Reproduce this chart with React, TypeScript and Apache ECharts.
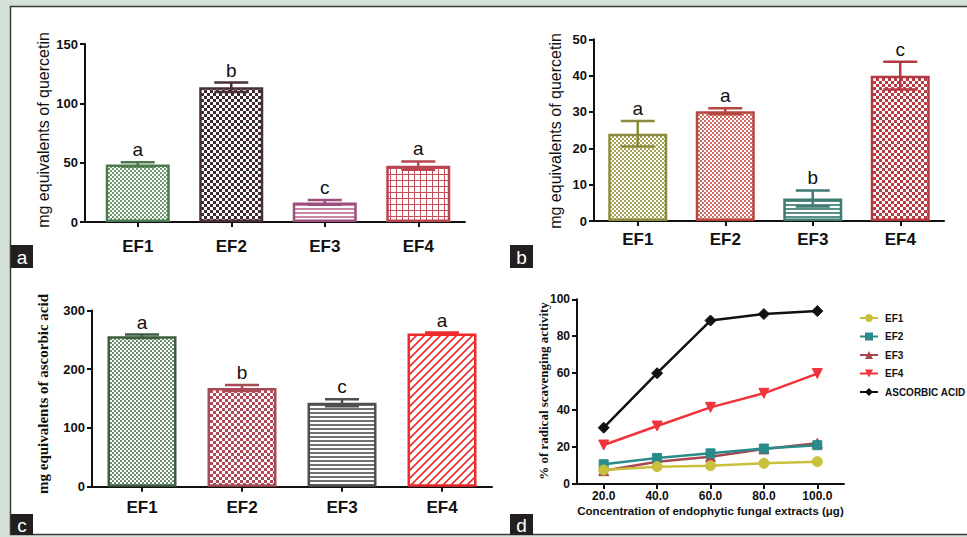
import React, { useEffect, useRef } from 'react';
import * as echarts from 'echarts';

// ---------- data ----------
const categories = ['EF1', 'EF2', 'EF3', 'EF4'];

const flavA = [48.5, 113.5, 16.5, 47.5];
const flavAErr = [1.8, 4, 2, 3.5];
const flavALetters = ['a', 'b', 'c', 'a'];

const flavB = [24, 30.2, 6.2, 40];
const flavBErr = [3.5, 0.8, 2.2, 3.8];
const flavBLetters = ['a', 'a', 'b', 'c'];

const ascC = [256, 168, 143, 261];
const ascCErr = [3, 5, 6, 1.5];
const ascCLetters = ['a', 'b', 'c', 'a'];

const concentrations = ['20.0', '40.0', '60.0', '80.0', '100.0'];
const dEF1 = [7.6, 9.4, 9.9, 11.2, 12.1];
const dEF2 = [10.7, 14.1, 16.6, 19.2, 21];
const dEF3 = [7.2, 12.1, 14.8, 19, 22];
const dEF4 = [21.1, 31.4, 41.5, 49.1, 59.8];
const dAsc = [30.5, 60, 88.5, 92, 93.6];

const panelTags = ['a', 'b', 'c', 'd'];
const yTitles = [
  'mg equivalents of quercetin',
  'mg equivalents of quercetin',
  'mg equivalents of ascorbic acid',
  '% of radical scavenging activity',
];
const xTitleD = 'Concentration of endophytic fungal extracts (μg)';

// ---------- styles ----------
const SANS = '"Liberation Sans", Arial, Helvetica, sans-serif';
const SERIF = '"Liberation Serif", "Times New Roman", serif';

function makePattern(kind: string, fg: string, size = 3) {
  const c = document.createElement('canvas');
  let w = 4, h = 4;
  if (kind === 'fine') { w = 4; h = 4; }
  if (kind === 'check') { w = size * 2; h = size * 2; }
  if (kind === 'hline') { w = 4; h = 4; }
  if (kind === 'grid') { w = 6; h = 6; }
  if (kind === 'diag') { w = 8; h = 8; }
  c.width = w; c.height = h;
  const ctx = c.getContext('2d')!;
  ctx.fillStyle = '#ffffff';
  ctx.fillRect(0, 0, w, h);
  ctx.fillStyle = fg;
  ctx.strokeStyle = fg;
  if (kind === 'fine') {
    ctx.fillRect(0, 0, 2, 2);
    ctx.fillRect(2, 2, 2, 2);
  } else if (kind === 'check') {
    ctx.fillRect(0, 0, size, size);
    ctx.fillRect(size, size, size, size);
  } else if (kind === 'hline') {
    ctx.fillRect(0, 0, w, 2);
  } else if (kind === 'grid') {
    ctx.fillRect(0, 0, w, 1);
    ctx.fillRect(0, 0, 1, h);
  } else if (kind === 'diag') {
    ctx.lineWidth = 1.6;
    ctx.beginPath();
    ctx.moveTo(-1, 9); ctx.lineTo(9, -1);
    ctx.moveTo(-1, 1); ctx.lineTo(1, -1);
    ctx.moveTo(7, 9); ctx.lineTo(9, 7);
    ctx.stroke();
  }
  return { image: c.toDataURL(), repeat: 'repeat', imageWidth: w, imageHeight: h };
}

const axisLine = { show: true, lineStyle: { color: '#111', width: 2 } };
const axisTick = { show: true, length: 5, lineStyle: { color: '#111', width: 2 } };

function barSeries(idx: number, values: number[], fills: any[], borders: string[], barWidth: number) {
  return {
    type: 'bar',
    xAxisIndex: idx,
    yAxisIndex: idx,
    barWidth,
    z: 2,
    data: values.map((v, i) => ({
      value: v,
      itemStyle: { color: fills[i], borderColor: borders[i], borderWidth: 2.5 },
    })),
  };
}

function errSeries(idx: number, values: number[], errs: number[], letters: string[], colors: string[]) {
  return {
    type: 'custom',
    xAxisIndex: idx,
    yAxisIndex: idx,
    z: 5,
    data: values.map((v, i) => [i, v, errs[i]]),
    encode: { x: 0, y: 1 },
    renderItem: (params: any, api: any) => {
      const i = api.value(0);
      const v = api.value(1);
      const e = api.value(2);
      const top = api.coord([i, v + e]);
      const bot = api.coord([i, v - e]);
      const color = colors[params.dataIndex];
      const half = 17;
      const ls = { stroke: color, lineWidth: 2.5 };
      return {
        type: 'group',
        children: [
          { type: 'line', shape: { x1: top[0], y1: top[1], x2: bot[0], y2: bot[1] }, style: ls },
          { type: 'line', shape: { x1: top[0] - half, y1: top[1], x2: top[0] + half, y2: top[1] }, style: ls },
          { type: 'line', shape: { x1: bot[0] - half, y1: bot[1], x2: bot[0] + half, y2: bot[1] }, style: ls },
          {
            type: 'text',
            x: top[0],
            y: top[1] - 3,
            style: {
              text: letters[params.dataIndex],
              align: 'center',
              verticalAlign: 'bottom',
              fill: '#111',
              fontSize: 19,
              fontFamily: SANS,
            },
          },
        ],
      };
    },
  };
}

function catAxis(idx: number, margin: number) {
  return {
    type: 'category',
    gridIndex: idx,
    data: categories,
    axisLine,
    axisTick: { ...axisTick, alignWithLabel: true },
    axisLabel: { color: '#111', fontSize: 17, fontWeight: 'bold', fontFamily: SANS, margin },
  };
}

function valAxis(idx: number, max: number, interval: number, offset = 0, labelSize = 13) {
  return {
    type: 'value',
    gridIndex: idx,
    min: 0,
    max,
    interval,
    offset,
    axisLine,
    axisTick,
    splitLine: { show: false },
    axisLabel: { color: '#111', fontSize: labelSize, fontWeight: 'bold', fontFamily: SANS, margin: 7 },
  };
}

function vTitle(text: string, x: number, y: number, font: any) {
  return {
    type: 'text',
    x,
    y,
    rotation: Math.PI / 2,
    z: 50,
    style: { text, align: 'center', verticalAlign: 'middle', fill: '#111', ...font },
  };
}

function tagBox(tag: string, x: number, y: number, w: number, h: number) {
  return {
    type: 'group',
    z: 100,
    children: [
      { type: 'rect', shape: { x, y, width: w, height: h }, style: { fill: '#231f20' } },
      {
        type: 'text',
        x: x + w / 2,
        y: y + h / 2 + 1,
        style: { text: tag, fill: '#fff', fontSize: 19, fontFamily: SANS, align: 'center', verticalAlign: 'middle' },
      },
    ],
  };
}

export default function App() {
  const ref = useRef<HTMLDivElement>(null);
  useEffect(() => {
    if (!ref.current) return;
    const chart = echarts.init(ref.current, null, { renderer: 'svg' });

    const aFills = [
      makePattern('fine', '#6f9a70'),
      makePattern('check', '#3d2a33', 3),
      makePattern('hline', '#c785a8'),
      makePattern('grid', '#c4505a'),
    ];
    const aBorders = ['#4b7a4d', '#4a2f3a', '#9c4f7c', '#b8444f'];
    const bFills = [
      makePattern('fine', '#a6a458'),
      makePattern('fine', '#cf6d64'),
      makePattern('hline', '#5a9088'),
      makePattern('check', '#b83a42', 3),
    ];
    const bBorders = ['#8c8a3c', '#b5473f', '#3f7a73', '#b43a42'];
    const cFills = [
      makePattern('fine', '#6f8c70'),
      makePattern('check', '#b04a58', 3),
      makePattern('hline', '#707070'),
      makePattern('diag', '#ee2a2a'),
    ];
    const cBorders = ['#3d5e3f', '#a84a55', '#4f4f4f', '#ee2a2a'];

    const lineBase = (name: string, data: number[], color: string, symbol: string, size: number, rotate = 0) => ({
      type: 'line',
      name,
      xAxisIndex: 3,
      yAxisIndex: 3,
      data,
      symbol,
      symbolSize: size,
      symbolRotate: rotate,
      lineStyle: { color, width: 2.5 },
      itemStyle: { color, borderColor: color },
      z: 3,
    });

    const sansTitle = { fontSize: 16, fontFamily: SANS };
    const serifTitle = { fontSize: 15, fontWeight: 'bold', fontFamily: SERIF };

    const option: any = {
      animation: false,
      backgroundColor: '#d5e2d9',
      graphic: [
        {
          type: 'rect',
          z: -10,
          shape: { x: 10.5, y: 6.5, width: 960, height: 528 },
          style: { fill: '#ffffff', stroke: '#3a3a3a', lineWidth: 1.5 },
        },
        {
          type: 'line',
          shape: { x1: 85, y1: 222, x2: 92, y2: 222 },
          style: { stroke: '#111', lineWidth: 2 },
        },
        vTitle(yTitles[0], 43, 130, sansTitle),
        vTitle(yTitles[1], 555, 131, sansTitle),
        vTitle(yTitles[2], 43, 394, serifTitle),
        vTitle(yTitles[3], 543, 391, { fontSize: 13, fontWeight: 'bold', fontFamily: SERIF }),
        tagBox(panelTags[0], 11, 245, 22, 23),
        tagBox(panelTags[1], 510, 245, 23, 23),
        tagBox(panelTags[2], 11, 514, 22, 21),
        tagBox(panelTags[3], 510, 514, 23, 21),
      ],
      grid: [
        { left: 91, top: 44, width: 374, height: 178 },
        { left: 594, top: 39.3, width: 350, height: 181.7 },
        { left: 92, top: 310.5, width: 400, height: 176.2 },
        { left: 577, top: 299.3, width: 267, height: 184.7 },
      ],
      xAxis: [
        catAxis(0, 16),
        catAxis(1, 10),
        catAxis(2, 12),
        {
          type: 'category',
          gridIndex: 3,
          data: concentrations,
          boundaryGap: true,
          axisLine,
          axisTick: { ...axisTick, alignWithLabel: true },
          axisLabel: { color: '#111', fontSize: 12, fontWeight: 'bold', fontFamily: SANS, margin: 6 },
          name: xTitleD,
          nameLocation: 'middle',
          nameGap: 21,
          nameTextStyle: { color: '#111', fontSize: 11.5, fontWeight: 'bold', fontFamily: SANS },
        },
      ],
      yAxis: [
        valAxis(0, 150, 50, 6),
        valAxis(1, 50, 10),
        valAxis(2, 300, 100),
        valAxis(3, 100, 20, 0, 12),
      ],
      legend: {
        orient: 'vertical',
        left: 854,
        top: 308,
        itemWidth: 18,
        itemHeight: 10,
        itemGap: 8.5,
        data: ['EF1', 'EF2', 'EF3', 'EF4', 'ASCORBIC ACID'],
        textStyle: { color: '#111', fontSize: 10, fontWeight: 'bold', fontFamily: SANS, padding: [0, 0, 0, 2] },
      },
      series: [
        barSeries(0, flavA, aFills, aBorders, 64),
        errSeries(0, flavA, flavAErr, flavALetters, aBorders),
        barSeries(1, flavB, bFills, bBorders, 59),
        errSeries(1, flavB, flavBErr, flavBLetters, bBorders),
        barSeries(2, ascC, cFills, cBorders, 69),
        errSeries(2, ascC, ascCErr, ascCLetters, cBorders),
        lineBase('EF3', dEF3, '#a8474f', 'triangle', 10),
        lineBase('EF2', dEF2, '#2a8c8a', 'rect', 9),
        lineBase('EF1', dEF1, '#c9c03c', 'circle', 10),
        lineBase('EF4', dEF4, '#f0333a', 'triangle', 10, 180),
        lineBase('ASCORBIC ACID', dAsc, '#111111', 'diamond', 11),
      ],
    };
    chart.setOption(option);
    return () => chart.dispose();
  }, []);

  return (
    <div
      ref={ref}
      style={{ position: 'fixed', left: 0, top: 0, width: 967, height: 537 }}
    />
  );
}
